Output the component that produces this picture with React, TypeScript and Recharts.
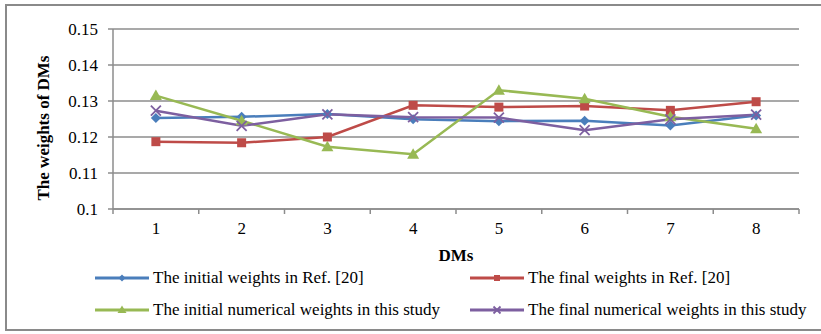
import React from 'react';
import { LineChart, Line, XAxis, YAxis, CartesianGrid } from 'recharts';

// DMs along the x axis
const dms = [1, 2, 3, 4, 5, 6, 7, 8];

// weights of each DM
const initialRef20 = [0.1253, 0.1256, 0.1264, 0.1249, 0.1244, 0.1245, 0.1232, 0.126];
const finalRef20 = [0.1187, 0.1184, 0.12, 0.1288, 0.1283, 0.1286, 0.1274, 0.1298];
const initialStudy = [0.1315, 0.1245, 0.1173, 0.1152, 0.133, 0.1306, 0.1256, 0.1223];
const finalStudy = [0.1273, 0.1231, 0.1263, 0.1255, 0.1254, 0.1219, 0.1249, 0.1262];

const yTicks = [0.1, 0.11, 0.12, 0.13, 0.14, 0.15];
// category centres get labels, half steps get the tick marks between categories
const xTicks = [0.5, 1, 1.5, 2, 2.5, 3, 3.5, 4, 4.5, 5, 5.5, 6, 6.5, 7, 7.5, 8, 8.5];

const FONT = '"Liberation Serif", "Times New Roman", serif';
const GRID = '#8c8c8c';

type Shape = 'diamond' | 'square' | 'triangle' | 'cross';

const series: { key: string; name: string; color: string; shape: Shape; values: number[] }[] = [
  { key: 'a', name: 'The initial weights in Ref. [20]', color: '#4a7ebb', shape: 'diamond', values: initialRef20 },
  { key: 'b', name: 'The final weights in Ref. [20]', color: '#be4b48', shape: 'square', values: finalRef20 },
  { key: 'c', name: 'The initial numerical weights in this study', color: '#98b954', shape: 'triangle', values: initialStudy },
  { key: 'd', name: 'The final numerical weights in this study', color: '#7d5fa0', shape: 'cross', values: finalStudy },
];

const data = dms.map((dm, i) => {
  const row: Record<string, number> = { dm };
  series.forEach((s) => {
    row[s.key] = s.values[i];
  });
  return row;
});

const Marker = ({ cx, cy, shape, color, r = 5 }: { cx: number; cy: number; shape: Shape; color: string; r?: number }) => {
  if (shape === 'diamond') {
    return <path d={`M${cx},${cy - r} L${cx + r},${cy} L${cx},${cy + r} L${cx - r},${cy} Z`} fill={color} />;
  }
  if (shape === 'square') {
    return <rect x={cx - r + 0.5} y={cy - r + 0.5} width={2 * r - 1} height={2 * r - 1} fill={color} />;
  }
  if (shape === 'triangle') {
    return <path d={`M${cx},${cy - r - 1} L${cx + r + 1},${cy + r - 0.5} L${cx - r - 1},${cy + r - 0.5} Z`} fill={color} />;
  }
  return (
    <g stroke={color} strokeWidth={1.8}>
      <line x1={cx - r} y1={cy - r} x2={cx + r} y2={cy + r} />
      <line x1={cx - r} y1={cy + r} x2={cx + r} y2={cy - r} />
    </g>
  );
};

const XTick = (props: any) => {
  const { x, y, payload } = props;
  const v = payload.value as number;
  if (Number.isInteger(v)) {
    return (
      <text x={x} y={y} dy="0.71em" textAnchor="middle" fontFamily={FONT} fontSize={17} fill="#000">
        {v}
      </text>
    );
  }
  // tick mark hanging below the axis line
  return <line x1={x} x2={x} y1={y - 13} y2={y - 8} stroke={GRID} strokeWidth={1.5} />;
};

const LegendItem = ({ s }: { s: (typeof series)[number] }) => (
  <div style={{ display: 'flex', alignItems: 'center', height: 20 }}>
    <svg width={56} height={14} style={{ marginRight: 3 }}>
      <line x1={1} y1={7} x2={55} y2={7} stroke={s.color} strokeWidth={3} />
      <Marker cx={28} cy={7} shape={s.shape} color={s.color} r={3.5} />
    </svg>
    <span>{s.name}</span>
  </div>
);

export default function App() {
  return (
    <div
      style={{
        position: 'fixed',
        left: 0,
        top: 0,
        width: 821,
        height: 334,
        background: '#fff',
        fontFamily: FONT,
      }}
    >
      <div
        style={{
          position: 'absolute',
          left: 5,
          top: 4,
          width: 820,
          height: 327,
          borderLeft: '2px solid #8a8a8a',
          borderTop: '2px solid #8a8a8a',
          borderBottom: '2px solid #8a8a8a',
          boxSizing: 'border-box',
        }}
      />
      <LineChart width={821} height={334} data={data} margin={{ top: 29, right: 22, bottom: 95, left: 0 }}>
        <CartesianGrid vertical={false} stroke={GRID} strokeWidth={1.5} />
        <XAxis
          dataKey="dm"
          type="number"
          domain={[0.5, 8.5]}
          ticks={xTicks}
          interval={0}
          height={30}
          axisLine={{ stroke: GRID, strokeWidth: 1.5 }}
          tickLine={false}
          tickSize={5}
          tickMargin={8}
          tick={<XTick />}
          label={{
            value: 'DMs',
            position: 'insideBottom',
            offset: -22,
            style: { fontFamily: FONT, fontSize: 17, fontWeight: 'bold', fill: '#000' },
          }}
        />
        <YAxis
          domain={[0.1, 0.15]}
          ticks={yTicks}
          width={113}
          axisLine={{ stroke: GRID, strokeWidth: 1.5 }}
          tickLine={{ stroke: GRID, strokeWidth: 1.5 }}
          tickSize={5}
          tickMargin={10}
          tick={{ fontFamily: FONT, fontSize: 17, fill: '#000' }}
          label={{
            content: () => (
              <text
                transform="translate(43,128) rotate(-90)"
                textAnchor="middle"
                dominantBaseline="central"
                fontFamily={FONT}
                fontSize={17}
                fontWeight="bold"
                fill="#000"
              >
                The weights of DMs
              </text>
            ),
          }}
        />
        {series.map((s) => (
          <Line
            key={s.key}
            dataKey={s.key}
            name={s.name}
            stroke={s.color}
            strokeWidth={2.5}
            isAnimationActive={false}
            dot={(p: any) => <Marker key={`${s.key}-${p.index}`} cx={p.cx} cy={p.cy} shape={s.shape} color={s.color} />}
            activeDot={false}
          />
        ))}
      </LineChart>
      <div
        style={{
          position: 'absolute',
          left: 94,
          top: 268,
          display: 'grid',
          gridTemplateColumns: '375px auto',
          rowGap: 12,
          fontSize: 17,
          color: '#000',
        }}
      >
        {series.map((s) => (
          <LegendItem key={s.key} s={s} />
        ))}
      </div>
    </div>
  );
}
